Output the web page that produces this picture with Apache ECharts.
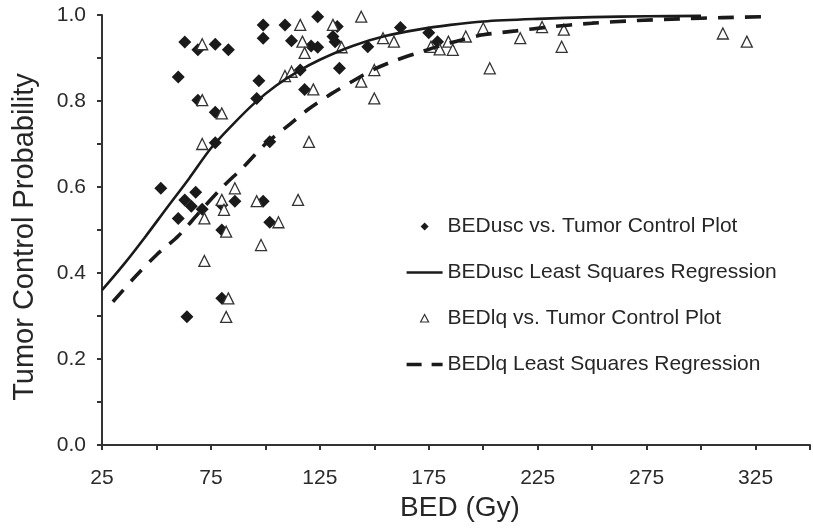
<!DOCTYPE html>
<html>
<head>
<meta charset="utf-8">
<title>BED vs. Tumor Control Probability</title>
<script src="https://cdn.jsdelivr.net/npm/echarts@6/dist/echarts.min.js"></script>
<style>
  html, body { margin: 0; padding: 0; background: #fff; }
  #chart { width: 813px; height: 531px; }
</style>
</head>
<body>
<div id="chart"></div>
<script>
// BEDusc observations (Gy, tumor control probability)
const uscBed = [60, 63, 69, 77, 83, 99, 99, 109, 97, 96, 69, 77, 77, 102, 52, 68, 63, 66, 60, 71, 80, 86, 80, 80, 64, 99, 102,
                124, 133, 112, 121, 124, 131, 132, 162, 147, 175, 179, 116, 134, 118];
const uscTcp = [0.856, 0.937, 0.919, 0.932, 0.919, 0.977, 0.946, 0.977, 0.847, 0.806, 0.802, 0.774, 0.703, 0.705, 0.597, 0.588, 0.570, 0.555, 0.527, 0.548, 0.558, 0.567, 0.500, 0.341, 0.298, 0.567, 0.518,
                0.996, 0.973, 0.940, 0.928, 0.925, 0.950, 0.938, 0.971, 0.926, 0.959, 0.938, 0.872, 0.876, 0.827];

// BEDlq observations
const lqBed = [71, 71, 80, 71, 86, 109, 80, 81, 72, 82, 96, 106, 98, 72, 83, 82, 115,
               116, 131, 144, 117, 118, 135, 154, 159, 176, 180, 184, 186, 112, 122, 150, 144, 150, 120,
               192, 200, 203, 217, 227, 236, 237, 310, 321];
const lqTcp = [0.932, 0.802, 0.771, 0.700, 0.597, 0.858, 0.570, 0.547, 0.527, 0.496, 0.567, 0.518, 0.465, 0.428, 0.341, 0.298, 0.570,
               0.977, 0.977, 0.996, 0.938, 0.912, 0.925, 0.946, 0.938, 0.926, 0.920, 0.938, 0.919, 0.868, 0.827, 0.872, 0.845, 0.806, 0.705,
               0.950, 0.969, 0.876, 0.946, 0.972, 0.926, 0.966, 0.957, 0.938];

// Least squares regression curves
const uscFitBed = [25, 35, 45, 55, 65, 75, 85, 95, 105, 115, 125, 140, 155, 170, 185, 200, 225, 250, 275, 300];
const uscFitTcp = [0.360, 0.420, 0.485, 0.553, 0.620, 0.690, 0.745, 0.795, 0.836, 0.869, 0.896, 0.928, 0.951, 0.966, 0.977, 0.985, 0.991, 0.995, 0.997, 0.998];
const lqFitBed = [30, 40, 50, 60, 70, 80, 90, 100, 110, 120, 130, 140, 150, 160, 170, 180, 190, 200, 215, 230, 250, 270, 290, 310, 330];
const lqFitTcp = [0.333, 0.390, 0.442, 0.486, 0.543, 0.598, 0.647, 0.700, 0.741, 0.782, 0.816, 0.846, 0.874, 0.895, 0.912, 0.928, 0.942, 0.954, 0.963, 0.972, 0.981, 0.987, 0.991, 0.994, 0.996];

// Axis settings
const xMin = 25, xMax = 350, xStep = 25, xLabelStep = 50;
const yMin = 0, yMax = 1, yStep = 0.1;

const names = {
  uscPts: 'BEDusc vs. Tumor Control Plot',
  uscFit: 'BEDusc Least Squares Regression',
  lqPts: 'BEDlq vs. Tumor Control Plot',
  lqFit: 'BEDlq Least Squares Regression'
};

const pairs = (xs, ys) => xs.map((x, i) => [x, ys[i]]);

const FONT = '"Liberation Sans", Arial, sans-serif';
const INK = '#1a1a1a';
const AXIS = '#333';

// Legend keys: a 36x14 frame (the leading moves) holding a small glyph
const KEY_DIAMOND = 'path://M0,0M36,14M18,3L22,7L18,11L14,7Z';
const KEY_TRIANGLE = 'path://M0,0M36,14M18,3L22,10.5L14,10.5Z';
const KEY_SOLID = 'path://M0,0M36,14M0,5.8L36,5.8L36,8.2L0,8.2Z';
const KEY_DASHED = 'path://M0,0M36,14M0,5.3L15,5.3L15,8.7L0,8.7ZM25,5.3L36,5.3L36,8.7L25,8.7Z';

const chart = echarts.init(document.getElementById('chart'), null, { renderer: 'canvas' });

chart.setOption({
  animation: false,
  backgroundColor: '#fff',
  textStyle: { fontFamily: FONT },
  grid: { left: 102, right: 1, top: 15, bottom: 86, containLabel: false },
  legend: {
    orient: 'vertical',
    left: 401,
    top: 211,
    itemWidth: 36,
    itemHeight: 14,
    itemGap: 25,
    symbolKeepAspect: true,
    selectedMode: false,
    textStyle: { fontSize: 21, color: '#262626', fontFamily: FONT },
    data: [
      { name: names.uscPts, icon: KEY_DIAMOND, itemStyle: { color: INK, borderWidth: 0 } },
      { name: names.uscFit, icon: KEY_SOLID, itemStyle: { color: INK, borderWidth: 0 } },
      { name: names.lqPts, icon: KEY_TRIANGLE, itemStyle: { color: '#fff', borderColor: AXIS, borderWidth: 1.2 } },
      { name: names.lqFit, icon: KEY_DASHED, itemStyle: { color: INK, borderWidth: 0 } }
    ]
  },
  xAxis: {
    type: 'value',
    min: xMin, max: xMax, interval: xStep,
    name: 'BED (Gy)',
    nameLocation: 'middle',
    nameGap: 40,
    nameTextStyle: { fontSize: 28, color: '#262626', fontFamily: FONT, padding: [0, 0, 0, 8] },
    axisLine: { show: true, lineStyle: { color: AXIS, width: 2 } },
    axisTick: { show: true, length: 5, lineStyle: { color: AXIS, width: 2 } },
    splitLine: { show: false },
    axisLabel: {
      margin: 23, fontSize: 21, color: '#2a2a2a', fontFamily: FONT,
      formatter: v => ((v - xMin) % xLabelStep === 0 && v < xMax) ? String(v) : ''
    }
  },
  yAxis: {
    type: 'value',
    min: yMin, max: yMax, interval: yStep,
    name: 'Tumor Control Probability',
    nameLocation: 'middle',
    nameGap: 63,
    nameTextStyle: { fontSize: 29, color: '#262626', fontFamily: FONT, padding: [0, 14, 0, 0] },
    axisLine: { show: true, lineStyle: { color: AXIS, width: 2 } },
    axisTick: { show: true, length: 5, lineStyle: { color: AXIS, width: 2 } },
    splitLine: { show: false },
    axisLabel: {
      margin: 16, fontSize: 21, color: '#2a2a2a', fontFamily: FONT,
      formatter: v => (Math.round(v * 10) % 2 === 0) ? v.toFixed(1) : ''
    }
  },
  series: [
    {
      name: names.uscPts,
      type: 'scatter',
      symbol: 'diamond',
      symbolSize: 13,
      itemStyle: { color: INK, opacity: 1 },
      data: pairs(uscBed, uscTcp),
      z: 2
    },
    {
      name: names.lqPts,
      type: 'scatter',
      symbol: 'triangle',
      symbolSize: 11,
      itemStyle: { color: '#fff', borderColor: AXIS, borderWidth: 1.3, opacity: 1 },
      data: pairs(lqBed, lqTcp),
      z: 3
    },
    {
      name: names.uscFit,
      type: 'line',
      symbol: 'none',
      smooth: 0.3,
      lineStyle: { color: INK, width: 2.6, type: 'solid' },
      itemStyle: { color: INK },
      data: pairs(uscFitBed, uscFitTcp),
      z: 4
    },
    {
      name: names.lqFit,
      type: 'line',
      symbol: 'none',
      smooth: 0.3,
      lineStyle: { color: INK, width: 3.6, type: [16, 11] },
      itemStyle: { color: INK },
      data: pairs(lqFitBed, lqFitTcp),
      z: 4
    }
  ]
});
</script>
</body>
</html>
